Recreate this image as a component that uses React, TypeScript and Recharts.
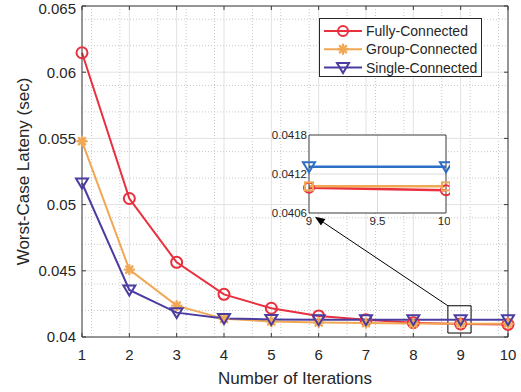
import {
  CartesianGrid,
  Label,
  Line,
  LineChart,
  ReferenceArea,
  ReferenceLine,
  XAxis,
  YAxis,
} from "recharts";

const iterations = [1, 2, 3, 4, 5, 6, 7, 8, 9, 10];
const fullyConnected = [0.06147, 0.05046, 0.04564, 0.04322, 0.04217, 0.04159, 0.0413, 0.04108, 0.04099, 0.04095];
const groupConnected = [0.05478, 0.04509, 0.04237, 0.04137, 0.04118, 0.0411, 0.04105, 0.04102, 0.04101, 0.04101];
const singleConnected = [0.05163, 0.04355, 0.04184, 0.0414, 0.04133, 0.04131, 0.04131, 0.04131, 0.04131, 0.04131];

const xTicks = [1, 2, 3, 4, 5, 6, 7, 8, 9, 10];
const yTicks = [0.04, 0.045, 0.05, 0.055, 0.06, 0.065];
const insetXTicks = [9, 9.5, 10];
const insetYTicks = [0.0406, 0.0412, 0.0418];

const RED = "#e8303e";
const ORANGE = "#f0a854";
const PURPLE = "#4b3ca0";
const BLUE = "#2d6ec6";
const AXIS = "#3a3a3a";
const FONT = "'Liberation Sans', Arial, Helvetica, sans-serif";

const rows = iterations.map((it, i) => ({
  it,
  fully: fullyConnected[i],
  group: groupConnected[i],
  single: singleConnected[i],
}));
const insetRows = rows.filter((r) => r.it >= 9);

// minor grid every 0.2 on x and 0.001 on y
const xMinor: number[] = [];
for (let i = 1; i < 10; i++) for (let k = 1; k < 5; k++) xMinor.push(i + k * 0.2);
const yMinor: number[] = [];
for (let v = 41; v < 65; v++) if (v % 5 !== 0) yMinor.push(v / 1000);

function Circle({ cx, cy, color, r = 5 }: any) {
  return <circle cx={cx} cy={cy} r={r} fill="none" stroke={color} strokeWidth={2} />;
}

function Asterisk({ cx, cy, color }: any) {
  const r = 4.5;
  const d = r * Math.SQRT1_2;
  return (
    <g stroke={color} strokeWidth={2.4} strokeLinecap="round">
      <line x1={cx - r} y1={cy} x2={cx + r} y2={cy} />
      <line x1={cx} y1={cy - r} x2={cx} y2={cy + r} />
      <line x1={cx - d} y1={cy - d} x2={cx + d} y2={cy + d} />
      <line x1={cx - d} y1={cy + d} x2={cx + d} y2={cy - d} />
    </g>
  );
}

function TriDown({ cx, cy, color }: any) {
  return (
    <polygon
      points={`${cx - 6},${cy - 4.5} ${cx + 6},${cy - 4.5} ${cx},${cy + 5.5}`}
      fill="none"
      stroke={color}
      strokeWidth={2}
      strokeLinejoin="miter"
    />
  );
}

function Square({ cx, cy, color }: any) {
  return <rect x={cx - 4} y={cy - 4} width={8} height={8} fill="none" stroke={color} strokeWidth={2} />;
}

const legendItems = [
  { name: "Fully-Connected", color: RED, Marker: Circle },
  { name: "Group-Connected", color: ORANGE, Marker: Asterisk },
  { name: "Single-Connected", color: PURPLE, Marker: TriDown },
];

// inward tick stubs on both ends of a major grid line
function stubsV(p: any) {
  const top = Math.min(p.y1, p.y2);
  const bot = Math.max(p.y1, p.y2);
  return (
    <g stroke={AXIS} strokeWidth={1}>
      <line x1={p.x1} y1={bot} x2={p.x1} y2={bot - 4} />
      <line x1={p.x1} y1={top} x2={p.x1} y2={top + 4} />
    </g>
  );
}

function stubsH(p: any) {
  const l = Math.min(p.x1, p.x2);
  const r = Math.max(p.x1, p.x2);
  return (
    <g stroke={AXIS} strokeWidth={1}>
      <line x1={l} y1={p.y1} x2={l + 4} y2={p.y1} />
      <line x1={r} y1={p.y1} x2={r - 4} y2={p.y1} />
    </g>
  );
}

function arrow(p: any) {
  const ang = Math.atan2(p.y2 - p.y1, p.x2 - p.x1);
  const len = 10;
  const w = 4;
  const bx = p.x2 - len * Math.cos(ang);
  const by = p.y2 - len * Math.sin(ang);
  const nx = -Math.sin(ang) * w;
  const ny = Math.cos(ang) * w;
  return (
    <g>
      <line x1={p.x1} y1={p.y1} x2={bx} y2={by} stroke="#000" strokeWidth={1} />
      <polygon points={`${p.x2},${p.y2} ${bx + nx},${by + ny} ${bx - nx},${by - ny}`} fill="#000" />
    </g>
  );
}

const tickStyle = { fontSize: 15, fill: "#262626", fontFamily: FONT };

export default function App() {
  return (
    <div style={{ position: "absolute", left: 0, top: 0, width: 521, height: 392, background: "#fff", fontFamily: FONT }}>
      <LineChart width={521} height={392} data={rows} margin={{ top: 6, right: 13, left: 2, bottom: 15 }}>
        <CartesianGrid
          stroke="#c8c8c8"
          strokeDasharray="1 2"
          horizontalValues={yMinor}
          verticalValues={xMinor}
        />
        <CartesianGrid stroke="#e2e2e2" horizontalValues={yTicks} verticalValues={xTicks} />
        <XAxis
          dataKey="it"
          type="number"
          domain={[1, 10]}
          ticks={xTicks}
          tickSize={0}
          tickMargin={12}
          stroke={AXIS}
          tick={tickStyle}
          height={40}
        >
          <Label
            content={({ viewBox }: any) => (
              <text
                x={viewBox.x + viewBox.width / 2}
                y={viewBox.y + 47}
                textAnchor="middle"
                fontSize={17}
                fill="#262626"
                fontFamily={FONT}
              >
                Number of Iterations
              </text>
            )}
          />
        </XAxis>
        <YAxis
          type="number"
          domain={[0.04, 0.065]}
          ticks={yTicks}
          tickSize={0}
          tickMargin={6}
          stroke={AXIS}
          tick={tickStyle}
          width={80}
        >
          <Label
            content={({ viewBox }: any) => {
              const cx = 23;
              const cy = viewBox.y + viewBox.height / 2;
              return (
                <text
                  x={cx}
                  y={cy}
                  transform={`rotate(-90, ${cx}, ${cy})`}
                  textAnchor="middle"
                  dominantBaseline="central"
                  fontSize={17}
                  fill="#262626"
                  fontFamily={FONT}
                >
                  Worst-Case Lateny (sec)
                </text>
              );
            }}
          />
        </YAxis>
        <ReferenceLine y={0.065} stroke={AXIS} />
        <ReferenceLine x={10} stroke={AXIS} />
        {xTicks.map((t) => (
          <ReferenceLine key={`xs${t}`} x={t} shape={stubsV} />
        ))}
        {yTicks.map((t) => (
          <ReferenceLine key={`ys${t}`} y={t} shape={stubsH} />
        ))}
        <Line
          dataKey="fully"
          stroke={RED}
          strokeWidth={2}
          isAnimationActive={false}
          dot={(p: any) => <Circle key={`f${p.index}`} cx={p.cx} cy={p.cy} color={RED} r={5.5} />}
        />
        <Line
          dataKey="group"
          stroke={ORANGE}
          strokeWidth={2}
          isAnimationActive={false}
          dot={(p: any) => <Asterisk key={`g${p.index}`} cx={p.cx} cy={p.cy} color={ORANGE} />}
        />
        <Line
          dataKey="single"
          stroke={PURPLE}
          strokeWidth={2}
          isAnimationActive={false}
          dot={(p: any) => <TriDown key={`s${p.index}`} cx={p.cx} cy={p.cy} color={PURPLE} />}
        />
        <ReferenceArea x1={8.73} x2={9.22} y1={0.0403} y2={0.04236} fill="none" stroke="#000" strokeWidth={1} />
        <ReferenceLine
          segment={[
            { x: 8.73, y: 0.04236 },
            { x: 5.92, y: 0.04909 },
          ]}
          shape={arrow}
        />
      </LineChart>

      <div
        style={{
          position: "absolute",
          left: 319,
          top: 18,
          width: 161,
          height: 57,
          border: "1px solid #262626",
          background: "#fff",
        }}
      >
        <svg width={161} height={57}>
          {legendItems.map((item, i) => {
            const y = 12 + i * 18.3;
            return (
              <g key={item.name}>
                <line x1={4} y1={y} x2={42} y2={y} stroke={item.color} strokeWidth={2} />
                <item.Marker cx={23} cy={y} color={item.color} />
                <text x={46} y={y} dominantBaseline="central" fontSize={14} fill="#262626" fontFamily={FONT}>
                  {item.name}
                </text>
              </g>
            );
          })}
        </svg>
      </div>

      <div style={{ position: "absolute", left: 250, top: 125 }}>
        <LineChart width={200} height={110} data={insetRows} margin={{ top: 10, right: 4, left: 9, bottom: 4 }}>
          <CartesianGrid
            stroke="#dcdcdc"
            fill="#fff"
            horizontalValues={[0.0412]}
            verticalValues={[9.5]}
          />
          <XAxis
            dataKey="it"
            type="number"
            domain={[9, 10]}
            ticks={insetXTicks}
            tickSize={0}
            tickMargin={4}
            stroke={AXIS}
            tick={{ fontSize: 11.5, fill: "#262626", fontFamily: FONT }}
            height={18}
          />
          <YAxis
            type="number"
            domain={[0.0406, 0.0418]}
            ticks={insetYTicks}
            tickSize={0}
            tickMargin={2}
            stroke={AXIS}
            tick={{ fontSize: 11.5, fill: "#262626", fontFamily: FONT }}
            width={50}
          />
          <ReferenceLine y={0.0418} stroke={AXIS} />
          <ReferenceLine x={10} stroke={AXIS} />
          <Line
            dataKey="fully"
            stroke={RED}
            strokeWidth={2.5}
            isAnimationActive={false}
            dot={(p: any) => <Circle key={`if${p.index}`} cx={p.cx} cy={p.cy} color={RED} r={5} />}
          />
          <Line
            dataKey="group"
            stroke={ORANGE}
            strokeWidth={2.5}
            isAnimationActive={false}
            dot={(p: any) => <Square key={`ig${p.index}`} cx={p.cx} cy={p.cy} color={ORANGE} />}
          />
          <Line
            dataKey="single"
            stroke={BLUE}
            strokeWidth={2.5}
            isAnimationActive={false}
            dot={(p: any) => <TriDown key={`is${p.index}`} cx={p.cx} cy={p.cy} color={BLUE} />}
          />
        </LineChart>
      </div>
    </div>
  );
}
